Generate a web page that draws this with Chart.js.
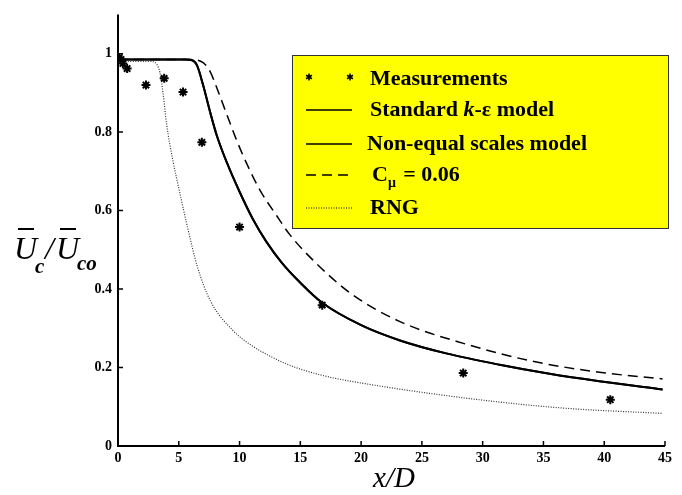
<!DOCTYPE html>
<html>
<head>
<meta charset="utf-8">
<script src="https://cdn.jsdelivr.net/npm/chart.js@4/dist/chart.umd.min.js"></script>
<style>
  html, body { margin: 0; padding: 0; background: #fff; }
  #wrap { width: 682px; height: 495px; }
</style>
</head>
<body>
<div id="wrap"><canvas id="chart" width="682" height="495"></canvas></div>
<script>
// measurements (x/D, Uc/Uco)
var measX = [0.1, 0.25, 0.4, 0.75, 2.3, 3.8, 5.35, 6.9, 10.0, 16.8, 28.4, 40.5];
var measY = [0.99, 0.985, 0.975, 0.962, 0.92, 0.937, 0.902, 0.774, 0.558, 0.359, 0.186, 0.118];

// standard k-e model (solid)
var stdX = [0, 5.5, 6.1, 6.5, 7.0, 7.57, 8.14, 8.96, 10.0, 11.1, 12.2, 13.5, 15.0, 16.8, 20.0, 23.2, 27.0, 31.4, 35.5, 39.6, 44.8];
var stdY = [0.985, 0.985, 0.983, 0.970, 0.920, 0.852, 0.79, 0.722, 0.648, 0.578, 0.521, 0.466, 0.416, 0.365, 0.308, 0.269, 0.236, 0.207, 0.184, 0.165, 0.144];

// non-equal scales model (drawn on top of the standard curve)
var neqX = stdX.slice();
var neqY = stdY.slice();

// C_mu = 0.06 (dashed)
var cmuX = [0, 6.0, 7.0, 7.57, 8.14, 8.96, 9.8, 10.6, 11.7, 13.1, 14.1, 16.0, 19.1, 23.2, 28.7, 34.1, 39.6, 44.8];
var cmuY = [0.985, 0.985, 0.977, 0.955, 0.912, 0.844, 0.776, 0.719, 0.651, 0.585, 0.54, 0.475, 0.39, 0.317, 0.259, 0.216, 0.188, 0.171];

// RNG (dotted)
var rngX = [0.4, 2.8, 3.2, 3.45, 3.7, 4.0, 4.5, 5.1, 5.7, 6.5, 7.6, 9.5, 10.9, 12.7, 13.8, 15.0, 17.5, 20.5, 25.9, 31.4, 36.9, 44.8];
var rngY = [0.98, 0.98, 0.972, 0.952, 0.90, 0.82, 0.73, 0.643, 0.56, 0.46, 0.37, 0.293, 0.258, 0.226, 0.210, 0.196, 0.175, 0.158, 0.133, 0.112, 0.096, 0.083];

var xTicks = [0, 5, 10, 15, 20, 25, 30, 35, 40, 45];
var yTicks = [0, 0.2, 0.4, 0.6, 0.8, 1];

var legendLabels = ["Measurements", "Standard k-\u03b5 model", "Non-equal scales model", "C\u03bc = 0.06", "RNG"];

function pts(xs, ys) {
  return xs.map(function (x, i) { return { x: x, y: ys[i] }; });
}

var serif = '"Liberation Serif", "Times New Roman", serif';

function asterisk(ctx, cx, cy, r) {
  ctx.beginPath();
  for (var k = 0; k < 3; k++) {
    var a = Math.PI / 2 + k * Math.PI / 3;
    ctx.moveTo(cx - r * Math.cos(a), cy - r * Math.sin(a));
    ctx.lineTo(cx + r * Math.cos(a), cy + r * Math.sin(a));
  }
  ctx.stroke();
}

// inward ticks, axis titles and the yellow legend box
var decor = {
  id: 'decor',
  afterDraw: function (chart) {
    var ctx = chart.ctx, xs = chart.scales.x, ys = chart.scales.y;
    var a = chart.chartArea;
    ctx.save();
    ctx.strokeStyle = '#000';
    ctx.lineWidth = 2;
    ctx.beginPath();
    ctx.moveTo(a.left, a.top);
    ctx.lineTo(a.left, a.bottom);
    ctx.lineTo(a.right, a.bottom);
    ctx.stroke();
    ctx.lineWidth = 1.5;
    ctx.beginPath();
    xTicks.forEach(function (v) {
      var px = xs.getPixelForValue(v);
      ctx.moveTo(px, a.bottom); ctx.lineTo(px, a.bottom - 5);
    });
    yTicks.forEach(function (v) {
      var py = ys.getPixelForValue(v);
      ctx.moveTo(a.left, py); ctx.lineTo(a.left + 5, py);
    });
    ctx.stroke();

    // x title
    ctx.fillStyle = '#000';
    ctx.font = 'italic 29px ' + serif;
    ctx.textAlign = 'center';
    ctx.textBaseline = 'alphabetic';
    ctx.fillText('x/D', 394, 487);

    // y title with overbars
    ctx.textAlign = 'left';
    ctx.font = 'italic 32px ' + serif;
    ctx.fillText('U', 14, 259);
    ctx.fillText('/', 45, 259);
    ctx.fillText('U', 56, 259);
    ctx.font = 'bold italic 21px ' + serif;
    ctx.fillText('c', 35, 273);
    ctx.fillText('co', 77, 270);
    ctx.lineWidth = 2;
    ctx.beginPath();
    ctx.moveTo(18, 229); ctx.lineTo(34, 229);
    ctx.moveTo(60, 229); ctx.lineTo(76, 229);
    ctx.stroke();

    // legend
    var lx = 292, ly = 55, lw = 376, lh = 173;
    ctx.fillStyle = '#ffff00';
    ctx.fillRect(lx, ly, lw, lh);
    ctx.strokeStyle = '#333';
    ctx.lineWidth = 1;
    ctx.strokeRect(lx + 0.5, ly + 0.5, lw, lh);

    var rows = [79, 110, 144, 175, 208];
    var ds = chart.data.datasets;
    ctx.fillStyle = '#000';
    ctx.textBaseline = 'middle';
    var bold = 'bold 22px ' + serif;
    var boldIt = 'bold italic 22px ' + serif;
    var tx = 370;

    rows.forEach(function (ry, i) {
      var d = ds[i];
      ctx.strokeStyle = '#000';
      if (i === 0) {
        ctx.lineWidth = 1.6;
        ctx.setLineDash([]);
        asterisk(ctx, 309, ry - 2, 3.4);
        asterisk(ctx, 350, ry - 2, 3.4);
      } else {
        ctx.lineWidth = i === 4 ? 1.2 : 1.6;
        ctx.setLineDash(d.borderDash || []);
        ctx.beginPath();
        ctx.moveTo(306, ry); ctx.lineTo(352, ry);
        ctx.stroke();
        ctx.setLineDash([]);
      }
      ctx.font = bold;
      if (i === 1) {
        var x = tx;
        ctx.fillText('Standard ', x, ry); x += ctx.measureText('Standard ').width;
        ctx.font = boldIt; ctx.fillText('k', x, ry); x += ctx.measureText('k').width;
        ctx.font = bold; ctx.fillText('-\u03b5 model', x, ry);
      } else if (i === 3) {
        var x2 = tx + 2;
        ctx.fillText('C', x2, ry); x2 += ctx.measureText('C').width;
        ctx.font = 'bold 14px ' + serif;
        ctx.fillText('\u03bc', x2, ry + 8); x2 += ctx.measureText('\u03bc').width + 2;
        ctx.font = bold; ctx.fillText(' = 0.06', x2, ry);
      } else if (i === 2) {
        ctx.fillText(d.label, tx - 3, ry);
      } else {
        ctx.fillText(d.label, tx, ry);
      }
    });
    ctx.restore();
  }
};

var ctx = document.getElementById('chart').getContext('2d');
var myChart = new Chart(ctx, {
  type: 'scatter',
  data: {
    datasets: [
      {
        label: legendLabels[0],
        data: pts(measX, measY),
        showLine: false,
        pointStyle: 'star',
        pointRadius: 4.5,
        borderWidth: 2,
        borderColor: '#000',
        backgroundColor: '#000'
      },
      {
        label: legendLabels[1],
        data: pts(stdX, stdY),
        showLine: true,
        pointRadius: 0,
        borderWidth: 2,
        borderColor: '#000',
        cubicInterpolationMode: 'monotone'
      },
      {
        label: legendLabels[2],
        data: pts(neqX, neqY),
        showLine: true,
        pointRadius: 0,
        borderWidth: 2,
        borderColor: '#000',
        cubicInterpolationMode: 'monotone'
      },
      {
        label: legendLabels[3],
        data: pts(cmuX, cmuY),
        showLine: true,
        pointRadius: 0,
        borderWidth: 1.5,
        borderColor: '#000',
        borderDash: [10, 6],
        cubicInterpolationMode: 'monotone'
      },
      {
        label: legendLabels[4],
        data: pts(rngX, rngY),
        showLine: true,
        pointRadius: 0,
        borderWidth: 1.2,
        borderColor: '#333',
        borderDash: [1, 1.5],
        cubicInterpolationMode: 'monotone'
      }
    ]
  },
  options: {
    responsive: false,
    animation: false,
    layout: { padding: { left: 0, right: 17, top: 8, bottom: 0 } },
    plugins: { legend: { display: false }, tooltip: { enabled: false } },
    scales: {
      x: {
        type: 'linear',
        min: 0, max: 45,
        border: { display: false },
        grid: { display: false, drawTicks: false },
        afterBuildTicks: function (s) { s.ticks = xTicks.map(function (v) { return { value: v }; }); },
        afterFit: function (s) { s.height = 49; },
        ticks: { color: '#000', padding: 4, font: { family: serif, size: 14, weight: 'bold' }, maxRotation: 0 }
      },
      y: {
        type: 'linear',
        min: 0, max: 1.1,
        border: { display: false },
        grid: { display: false, drawTicks: false },
        afterBuildTicks: function (s) { s.ticks = yTicks.map(function (v) { return { value: v }; }); },
        afterFit: function (s) { s.width = 118; },
        ticks: {
          color: '#000', padding: 6,
          font: { family: serif, size: 14, weight: 'bold' },
          callback: function (v) { return v === 0 ? '0' : (v === 1 ? '1' : v.toFixed(1)); }
        }
      }
    }
  },
  plugins: [decor]
});
</script>
</body>
</html>
